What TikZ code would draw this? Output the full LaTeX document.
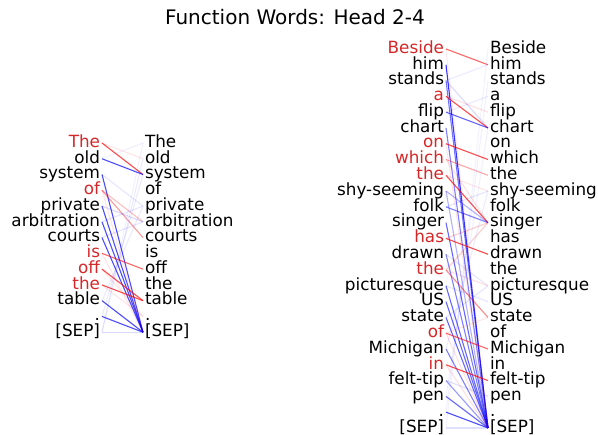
\documentclass[tikz,border=0pt]{standalone}
\usepackage{fontspec}
\setmainfont{DejaVu Sans}
\usepackage{xcolor}
\definecolor{fwred}{RGB}{214,39,40}
\definecolor{attnred}{RGB}{255,0,0}
\definecolor{attnblue}{RGB}{0,0,255}
\tikzstyle{word} = [inner xsep=2pt, inner ysep=0pt, outer sep=0pt, text height=12pt, text depth=3.5pt, font=\fontsize{16.8}{16.8}\selectfont]
\tikzstyle{attn} = [line width=1.1pt]

\begin{document}
\begin{tikzpicture}[x=1pt, y=-1pt]
\useasboundingbox (0,0) rectangle (598,435);
\node[font=\fontsize{20}{20}\selectfont] (title) at (295,17) {Function Words: Head 2-4};

% first sentence
\foreach \w/\c [count=\i] in {The/fwred, old/black, system/black, of/fwred, private/black,
    arbitration/black, courts/black, is/fwred, off/fwred, the/fwred, table/black, ./black, {[SEP]}/black}{
  \node[word, anchor=east, text=\c] (srcA-\i) at (102, {143+15.77*(\i-1)}) {\w};
  \node[word, anchor=west] (tgtA-\i) at (143, {143+15.77*(\i-1)}) {\w};
}
\foreach \s/\t/\o/\c in {1/3/0.7/attnred, 2/3/0.7/attnblue, 3/13/0.7/attnblue, 4/7/0.4/attnred,
    4/6/0.25/attnred, 5/13/0.7/attnblue, 6/13/0.7/attnblue, 7/13/0.7/attnblue, 8/9/0.6/attnred,
    9/11/0.7/attnred, 10/11/0.7/attnred, 11/13/0.7/attnblue, 12/13/0.7/attnblue, 13/13/0.15/attnblue,
    13/1/0.06/attnblue, 13/2/0.08/attnblue, 12/3/0.08/attnblue, 11/5/0.08/attnblue, 5/6/0.15/attnblue,
    6/5/0.1/attnblue, 3/5/0.1/attnblue, 2/1/0.06/attnblue, 7/6/0.1/attnblue, 10/12/0.1/attnred,
    8/13/0.1/attnred, 4/13/0.1/attnred, 9/12/0.1/attnred, 1/2/0.1/attnred}
  \draw[attn, draw=\c, draw opacity=\o] (srcA-\s.east) -- (tgtA-\t.west);

% second sentence
\foreach \w/\c [count=\i] in {Beside/fwred, him/black, stands/black, a/fwred, flip/black, chart/black,
    on/fwred, which/fwred, the/fwred, shy-seeming/black, folk/black, singer/black, has/fwred,
    drawn/black, the/fwred, picturesque/black, US/black, state/black, of/fwred, Michigan/black,
    in/fwred, felt-tip/black, pen/black, ./black, {[SEP]}/black}{
  \node[word, anchor=east, text=\c] (srcB-\i) at (446, {49+15.79*(\i-1)}) {\w};
  \node[word, anchor=west] (tgtB-\i) at (488, {49+15.79*(\i-1)}) {\w};
}
\foreach \s/\t/\o/\c in {1/2/0.6/attnred, 2/25/0.8/attnblue, 3/25/0.55/attnblue, 3/6/0.15/attnblue,
    4/6/0.7/attnred, 5/6/0.6/attnblue, 6/25/0.5/attnblue, 7/8/0.7/attnred, 8/9/0.35/attnred,
    9/12/0.7/attnred, 10/12/0.3/attnblue, 10/25/0.3/attnblue, 11/12/0.5/attnblue, 12/25/0.6/attnblue,
    13/14/0.7/attnred, 13/12/0.2/attnred, 14/25/0.5/attnblue, 15/18/0.45/attnred, 15/12/0.2/attnred,
    16/25/0.6/attnblue, 17/25/0.6/attnblue, 18/25/0.6/attnblue, 19/20/0.6/attnred, 20/25/0.5/attnblue,
    21/22/0.7/attnred, 22/25/0.4/attnblue, 23/25/0.6/attnblue, 24/25/0.7/attnblue, 25/25/0.12/attnblue,
    25/1/0.05/attnblue, 24/3/0.06/attnblue, 23/6/0.06/attnblue, 20/10/0.08/attnblue, 18/16/0.1/attnblue,
    16/17/0.1/attnblue, 14/16/0.1/attnblue, 11/10/0.1/attnblue, 5/4/0.08/attnblue, 3/2/0.08/attnblue,
    22/23/0.12/attnblue, 19/25/0.12/attnred, 21/25/0.12/attnred, 8/12/0.12/attnred, 9/10/0.1/attnred,
    7/25/0.1/attnred, 4/5/0.12/attnred, 1/25/0.08/attnred, 15/16/0.12/attnred, 19/18/0.1/attnred}
  \draw[attn, draw=\c, draw opacity=\o] (srcB-\s.east) -- (tgtB-\t.west);
\end{tikzpicture}
\end{document}
